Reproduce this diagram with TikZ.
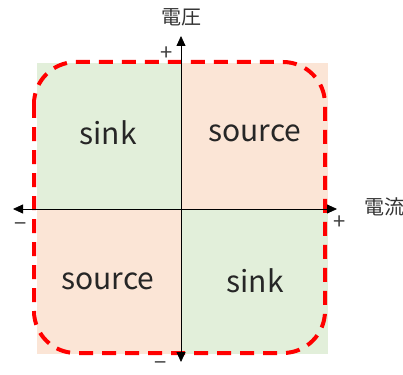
\documentclass[tikz,border=0pt]{standalone}
\usepackage{fontspec}
\setmainfont{Noto Sans CJK JP}
\usetikzlibrary{arrows.meta}
\definecolor{sinkfill}{HTML}{E2EFDA}
\definecolor{sourcefill}{HTML}{FBE5D6}
\definecolor{loopred}{HTML}{FF0000}
\tikzset{
  quad/.style={font=\fontsize{30}{30}\selectfont, text=black!85},
  axis/.style={line width=0.8pt, -{Triangle[length=10pt,width=9pt]}},
  tick/.style={font=\fontsize{22}{22}\selectfont, text=black!75},
  axlabel/.style={font=\fontsize{20}{20}\selectfont, text=black!80},
}
\begin{document}
\begin{tikzpicture}[x=1pt,y=-1pt]
  \useasboundingbox (0,0) rectangle (403,374);
  % quadrant backgrounds
  \fill[sinkfill]   (37,63)  rectangle (181,209);
  \fill[sourcefill] (181,63) rectangle (328,209);
  \fill[sourcefill] (37,209) rectangle (181,354);
  \fill[sinkfill]   (181,209) rectangle (328,354);
  % operating region outline
  \draw[loopred, line width=4pt, dash pattern=on 14pt off 9pt, rounded corners=42pt]
    (34,62) rectangle (325,353);
  % axes
  \coordinate (o) at (181,209);
  \coordinate (xl) at (13,209);
  \coordinate (xr) at (337,209);
  \coordinate (yt) at (181,36);
  \coordinate (yb) at (181,362);
  \draw[axis] (o) -- (xr);
  \draw[axis] (o) -- (xl);
  \draw[axis] (o) -- (yt);
  \draw[axis] (o) -- (yb);
  % axis labels and signs
  \node[axlabel] (vlab) at (181,17) {電圧};
  \node[axlabel] (ilab) at (384,207) {電流};
  \node[tick] (vp) at (167,54) {+};
  \node[tick] (vm) at (161,366) {−};
  \node[tick] (ip) at (340,223) {+};
  \node[tick] (im) at (21,227) {−};
  % quadrant names
  \node[quad] (q2) at (108,133) {sink};
  \node[quad] (q1) at (255,133) {source};
  \node[quad] (q3) at (108,281) {source};
  \node[quad] (q4) at (255,281) {sink};
\end{tikzpicture}
\end{document}
